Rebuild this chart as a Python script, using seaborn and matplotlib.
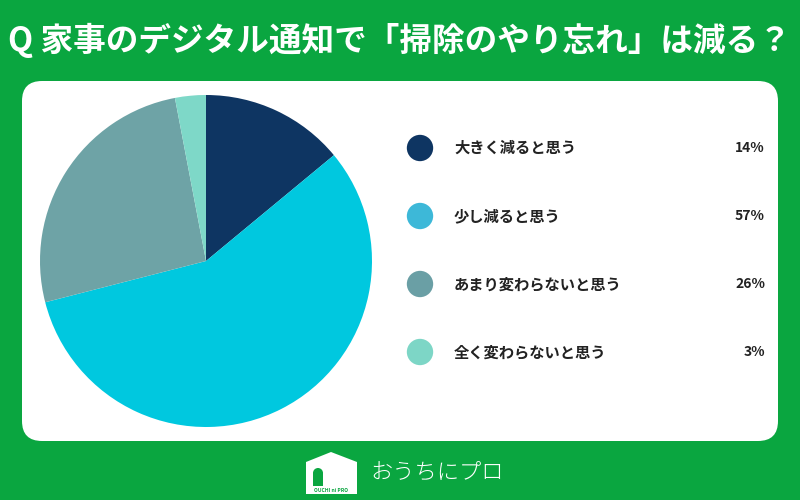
import numpy as np
import pandas as pd
import matplotlib
matplotlib.use("Agg")
import matplotlib.pyplot as plt
import seaborn as sns
from matplotlib.patches import FancyBboxPatch, Polygon, Wedge, Rectangle

# chart data
title = "Q 家事のデジタル通知で「掃除のやり忘れ」は減る？"
answers = ["大きく減ると思う", "少し減ると思う", "あまり変わらないと思う", "全く変わらないと思う"]
shares = [14, 57, 26, 3]
pie_colors = ["#0e3562", "#00c8df", "#6ea3a6", "#7ed8c8"]
dot_colors = ["#0e3562", "#3db8d8", "#6a9fa5", "#7dd6c6"]
brand = "おうちにプロ"

green = "#0aa640"

sns.set_theme(style="white")
plt.rcParams['font.family'] = ['Noto Sans CJK JP', 'DejaVu Sans']

fig = plt.figure(figsize=(8, 5), dpi=100)
fig.patch.set_facecolor(green)

# overlay axes in pixel coordinates
bg = fig.add_axes([0, 0, 1, 1])

panel = FancyBboxPatch((22 + 20, 81 + 20), 756 - 40, 360 - 40,
                       boxstyle="round,pad=20", fc="white", ec="none")
bg.add_patch(panel)

bg.text(399, 40, title, color="white", fontsize=23.5, fontweight="bold",
        ha="center", va="center")

# legend dots via seaborn
leg = pd.DataFrame({"x": [420] * 4, "y": [148, 216, 284, 352], "answer": answers})
sns.scatterplot(data=leg, x="x", y="y", hue="answer", palette=dot_colors,
                s=360, linewidth=0, legend=False, ax=bg)
bg.set_xlim(0, 800)
bg.set_ylim(500, 0)
bg.axis("off")
for yy, lab, v in zip(leg["y"], answers, shares):
    bg.text(454, yy, lab, fontsize=11, fontweight="bold", color="#222222",
            ha="left", va="center")
    bg.text(765, yy, f"{v}%", fontsize=10, fontweight="bold", color="#222222",
            ha="right", va="center")

# pie
r = 166
pie_ax = fig.add_axes([(206 - r) / 800, 1 - (261 + r) / 500, 2 * r / 800, 2 * r / 500])
pie_ax.pie(shares, colors=pie_colors, startangle=90, counterclock=False,
           wedgeprops=dict(linewidth=0))
pie_ax.set_xlim(-1, 1)
pie_ax.set_ylim(-1, 1)
pie_ax.set_aspect("equal")
pie_ax.axis("off")

# footer logo
house = Polygon([(306, 494), (306, 462), (331, 452), (357, 462), (357, 494)],
                closed=True, fc="white", ec="none")
bg.add_patch(house)
bg.add_patch(Rectangle((313, 473), 10, 16, fc=green, ec="none"))
bg.add_patch(Wedge((318, 473), 5, 180, 360, fc=green, ec="none"))
bg.add_patch(Rectangle((306, 486), 51, 8, fc="white", ec="none"))
bg.text(331.5, 491, "OUCHI ni PRO", fontsize=3.6, color=green, ha="center",
        va="center", fontweight="bold")
bg.text(370, 473, brand, fontsize=16, color="white", ha="left", va="center",
        fontweight="light")

fig.savefig("out.png", dpi=100, facecolor=green)
